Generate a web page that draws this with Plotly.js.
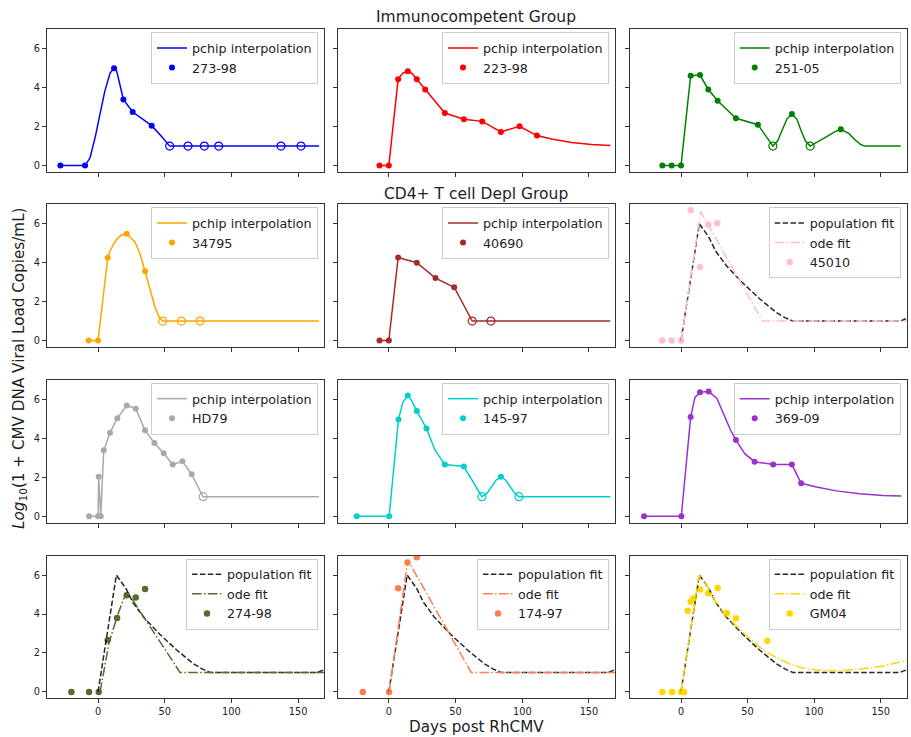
<!DOCTYPE html>
<html>
<head>
<meta charset="utf-8">
<script src="https://cdn.plot.ly/plotly-3.0.1.min.js"></script>
<style>
  html, body { margin: 0; padding: 0; background: #ffffff; }
  #chart { width: 911px; height: 737px; }
</style>
</head>
<body>
<div id="chart"></div>
<script>
// ---------------- DATA ----------------
const panelNames = ['273-98', '223-98', '251-05', '34795', '40690', '45010',
                    'HD79', '145-97', '369-09', '274-98', '174-97', 'GM04'];
const groupTitles = ['Immunocompetent Group', 'CD4+ T cell Depl Group'];
const xTickVals = [0, 50, 100, 150];
const yTickVals = [0, 2, 4, 6];

// 273-98
const d27398x = [-28.25, -9.75, 12, 19, 26, 40.25];
const d27398y = [0, 0, 5.0, 3.4, 2.75, 2.05];
const o27398x = [53.75, 67.5, 79.75, 90.5, 137.25, 152.25];
const o27398y = [1, 1, 1, 1, 1, 1];
const c27398x = [-28.25, -9.75, -6, -2, 1, 5, 9, 12, 14, 16.5, 19, 26, 40.25, 47, 53.75, 165.75];
const c27398y = [0, 0, 0.4, 1.5, 2.5, 3.8, 4.75, 5.0, 4.85, 4.2, 3.4, 2.75, 2.05, 1.55, 1.0, 1.0];

// 223-98
const d22398x = [-7, 0, 7, 14.25, 21, 27.25, 42, 56.25, 70, 84, 98, 111];
const d22398y = [0, 0, 4.44, 4.85, 4.44, 3.91, 2.70, 2.38, 2.27, 1.73, 2.02, 1.54];
const c22398x = [-7, 0, 7, 10.5, 14.25, 17.5, 21, 27.25, 42, 56.25, 70, 84, 98, 111, 122, 137, 152, 166];
const c22398y = [0, 0, 4.44, 4.75, 4.85, 4.72, 4.44, 3.91, 2.70, 2.38, 2.27, 1.73, 2.02, 1.54, 1.36, 1.19, 1.08, 1.03];

// 251-05
const d25105x = [-14, -7, 0, 7.25, 14.25, 20.5, 27.5, 41.25, 57.75, 83.25, 120];
const d25105y = [0, 0, 0, 4.62, 4.65, 3.91, 3.33, 2.43, 2.10, 2.65, 1.86];
const o25105x = [69, 97];
const o25105y = [1, 1];
const c25105x = [-14, -7, 0, 7.25, 14.25, 20.5, 27.5, 41.25, 57.75, 65, 69, 72.5, 76, 79.5, 83.25,
                 87, 90, 93.5, 97, 102, 108.5, 115, 120, 126, 131, 135, 138, 165];
const c25105y = [0, 0, 0, 4.62, 4.65, 3.91, 3.33, 2.43, 2.10, 1.4, 1.0, 1.26, 1.83, 2.39, 2.65,
                 2.39, 1.83, 1.26, 1.0, 1.18, 1.45, 1.72, 1.86, 1.65, 1.3, 1.08, 1.0, 1.0];

// 34795
const d34795x = [-7, 0, 7.25, 21.5, 35.25];
const d34795y = [0, 0, 4.26, 5.49, 3.56];
const o34795x = [48.5, 62.5, 76.5];
const o34795y = [1, 1, 1];
const c34795x = [-7, 0, 7.25, 9, 11.5, 14, 17.75, 21.5, 27.75, 31.5, 35.25, 39, 42.75, 46, 48.5, 165.75];
const c34795y = [0, 0, 4.26, 4.6, 4.94, 5.2, 5.44, 5.49, 5.05, 4.45, 3.56, 2.6, 1.7, 1.18, 1.0, 1.0];

// 40690
const d40690x = [-7, 0, 7, 21, 35, 49];
const d40690y = [0, 0, 4.27, 4.0, 3.21, 2.74];
const o40690x = [62.5, 76.5];
const o40690y = [1, 1];
const c40690x = [-7, 0, 7, 21, 35, 49, 62.5, 166];
const c40690y = [0, 0, 4.27, 4.0, 3.21, 2.74, 1.0, 1.0];

// 45010
const d45010x = [-14, -7, 0, 7.25, 14.25, 20.5, 27.25];
const d45010y = [0, 0, 0, 6.7, 3.78, 5.96, 6.03];
const ode45010x = [0, 14.75, 61.25, 170];
const ode45010y = [0, 6.62, 1.0, 1.0];

// HD79
const dHD79x = [-6.75, 0, 0.5, 2, 4.25, 9, 14.5, 21.5, 28.25, 35.25, 42.25, 49.25, 56, 63.25, 70.25];
const dHD79y = [0, 0, 2.02, 0, 3.38, 4.29, 5.03, 5.69, 5.52, 4.41, 3.76, 3.23, 2.65, 2.82, 2.15];
const oHD79x = [78.75];
const oHD79y = [1];
const cHD79x = [-6.75, 0, 0.5, 2, 4.25, 9, 14.5, 21.5, 28.25, 35.25, 42.25, 49.25, 56, 63.25, 70.25, 78.75, 165.75];
const cHD79y = [0, 0, 2.02, 0, 3.38, 4.29, 5.03, 5.69, 5.52, 4.41, 3.76, 3.23, 2.65, 2.82, 2.15, 1.0, 1.0];

// 145-97
const d14597x = [-24, 0.25, 7.25, 14.25, 21, 28.25, 42, 56.25, 84];
const d14597y = [0, 0, 4.97, 6.2, 5.40, 4.51, 2.65, 2.55, 2.02];
const o14597x = [69.75, 97.5];
const o14597y = [1, 1];
const c14597x = [-24, 0.25, 7.25, 10.5, 14.25, 17.5, 21, 28.25, 34.5, 42, 56.25, 63, 69.75, 73.5, 77, 80.5,
                 84, 87.5, 91, 94.5, 97.5, 166];
const c14597y = [0, 0, 4.97, 5.85, 6.2, 5.9, 5.40, 4.51, 3.4, 2.65, 2.55, 1.75, 1.0, 1.17, 1.51, 1.86,
                 2.02, 1.86, 1.51, 1.17, 1.0, 1.0];

// 369-09
const d36909x = [-27.75, 0.25, 7.25, 14.25, 20.75, 41.25, 55.25, 69.25, 83.25, 90.25];
const d36909y = [0, 0, 5.09, 6.36, 6.41, 3.91, 2.80, 2.65, 2.65, 1.69];
const c36909x = [-27.75, 0.25, 7.25, 10.5, 14.25, 20.75, 27, 33, 37, 41.25, 48, 55.25, 69.25, 83.25, 90.25,
                 101.75, 116.75, 134, 151.75, 165.5];
const c36909y = [0, 0, 5.09, 6.1, 6.36, 6.41, 6.05, 5.1, 4.45, 3.91, 3.2, 2.80, 2.65, 2.65, 1.69,
                 1.5, 1.3, 1.15, 1.06, 1.03];

// 274-98
const d27498x = [-20, -6.75, 0.5, 7.25, 14.25, 21.5, 28.25, 35.25];
const d27498y = [0, 0, 0, 2.67, 3.79, 4.96, 4.85, 5.28];
const ode27498x = [1.5, 5, 8.5, 14.5, 19, 22.5, 61.5, 170];
const ode27498y = [0, 1.4, 2.6, 3.9, 4.75, 5.08, 1.0, 1.0];

// 174-97
const d17497x = [-19.5, 0.25, 7, 14, 21];
const d17497y = [0, 0, 5.32, 6.65, 6.92];
const ode17497x = [0.25, 14.25, 61.75, 170];
const ode17497y = [0, 6.77, 1.0, 1.0];

// GM04
const dGM04x = [-14, -6.75, 0, 2.25, 5, 7.25, 9.25, 14.25, 20.5, 27.5, 34.5, 41.25, 64.75];
const dGM04y = [0, 0, 0, 0, 4.17, 4.63, 4.80, 5.26, 5.06, 5.33, 4.05, 3.78, 2.62];
const odeGM04x = [0, 13.5, 21, 26, 34, 46.5, 59, 64, 72, 82, 92, 102, 117, 134, 152, 170];
const odeGM04y = [0, 6.0, 5.3, 4.65, 3.9, 3.05, 2.3, 2.05, 1.75, 1.42, 1.22, 1.12, 1.08, 1.16, 1.33, 1.62];

// population fit (shared)
const popX = [0, 13.75, 21, 26, 34, 46.5, 59, 71.5, 78, 84, 164.5, 167, 170];
const popY = [0, 6.0, 5.3, 4.6, 3.85, 2.95, 2.15, 1.45, 1.18, 1.0, 1.0, 1.05, 1.15];

// ---------------- STYLE / LAYOUT ----------------
const panelColors = ['#0000ff', '#ff0000', '#008000', '#ffa500', '#a52a2a', '#ffc0cb',
                     '#a9a9a9', '#00ced1', '#9932cc', '#556b2f', '#ff7f50', '#ffd700'];
const W = 911, H = 737;
const colLeft = [47, 337.7, 630];
const colRight = [324, 615, 906.7];
const rowTop = [29.3, 204.3, 379.9, 555.6];
const rowBot = [172, 347, 522.6, 698.3];
const FONT = 'DejaVu Sans, Liberation Sans, sans-serif';

const panels = [
  {kind: 'pchip', d: [d27398x, d27398y], o: [o27398x, o27398y], c: [c27398x, c27398y]},
  {kind: 'pchip', d: [d22398x, d22398y], o: null, c: [c22398x, c22398y]},
  {kind: 'pchip', d: [d25105x, d25105y], o: [o25105x, o25105y], c: [c25105x, c25105y]},
  {kind: 'pchip', d: [d34795x, d34795y], o: [o34795x, o34795y], c: [c34795x, c34795y]},
  {kind: 'pchip', d: [d40690x, d40690y], o: [o40690x, o40690y], c: [c40690x, c40690y]},
  {kind: 'fit', d: [d45010x, d45010y], ode: [ode45010x, ode45010y]},
  {kind: 'pchip', d: [dHD79x, dHD79y], o: [oHD79x, oHD79y], c: [cHD79x, cHD79y]},
  {kind: 'pchip', d: [d14597x, d14597y], o: [o14597x, o14597y], c: [c14597x, c14597y]},
  {kind: 'pchip', d: [d36909x, d36909y], o: null, c: [c36909x, c36909y]},
  {kind: 'fit', d: [d27498x, d27498y], ode: [ode27498x, ode27498y]},
  {kind: 'fit', d: [d17497x, d17497y], ode: [ode17497x, ode17497y]},
  {kind: 'fit', d: [dGM04x, dGM04y], ode: [odeGM04x, odeGM04y]}
];

const traces = [];
const layout = {
  width: W, height: H,
  margin: {l: 0, r: 0, t: 0, b: 0},
  paper_bgcolor: '#ffffff', plot_bgcolor: '#ffffff',
  font: {family: FONT, color: '#222222'},
  annotations: [],
  showlegend: true
};

panels.forEach((p, i) => {
  const k = i + 1;
  const row = Math.floor(i / 3), col = i % 3;
  const xa = 'x' + (k === 1 ? '' : k), ya = 'y' + (k === 1 ? '' : k);
  const lg = 'legend' + (k === 1 ? '' : k);
  const color = panelColors[i];
  const name = panelNames[i];

  if (p.kind === 'pchip') {
    traces.push({x: p.c[0], y: p.c[1], type: 'scatter', mode: 'lines', name: 'pchip interpolation',
      xaxis: xa, yaxis: ya, legend: lg, line: {color: color, width: 1.5}, hoverinfo: 'skip'});
    traces.push({x: p.d[0], y: p.d[1], type: 'scatter', mode: 'markers', name: name,
      xaxis: xa, yaxis: ya, legend: lg, marker: {color: color, size: 6, line: {width: 0}}});
    if (p.o) {
      traces.push({x: p.o[0], y: p.o[1], type: 'scatter', mode: 'markers', showlegend: false,
        xaxis: xa, yaxis: ya, legend: lg,
        marker: {symbol: 'circle-open', color: color, size: 8, line: {width: 1.2, color: color}}});
    }
  } else {
    traces.push({x: p.d[0], y: p.d[1], type: 'scatter', mode: 'markers', name: name,
      xaxis: xa, yaxis: ya, legend: lg, legendrank: 3, marker: {color: color, size: 6.5, line: {width: 0}}});
    traces.push({x: popX, y: popY, type: 'scatter', mode: 'lines', name: 'population fit',
      xaxis: xa, yaxis: ya, legend: lg, legendrank: 1,
      line: {color: 'rgba(0,0,0,0.85)', width: 1.5, dash: '5.5px,2.4px'}});
    traces.push({x: p.ode[0], y: p.ode[1], type: 'scatter', mode: 'lines', name: 'ode fit',
      xaxis: xa, yaxis: ya, legend: lg, legendrank: 2,
      line: {color: color, width: 1.5, dash: '9.6px,2.4px,1.5px,2.4px'}});
  }

  const axCommon = {
    ticks: 'outside', ticklen: 4, tickwidth: 1, tickcolor: '#333333',
    showline: true, linecolor: '#333333', linewidth: 1, mirror: true,
    showgrid: false, zeroline: false,
    tickfont: {family: FONT, size: 9.8, color: '#222222'}
  };
  layout['xaxis' + (k === 1 ? '' : k)] = Object.assign({}, axCommon, {
    domain: [colLeft[col] / W, colRight[col] / W],
    anchor: ya, range: [-38.3, 169.5], tickvals: xTickVals,
    showticklabels: row === 3
  });
  layout['yaxis' + (k === 1 ? '' : k)] = Object.assign({}, axCommon, {
    domain: [1 - rowBot[row] / H, 1 - rowTop[row] / H],
    anchor: xa, range: [-0.33, 7.0], tickvals: yTickVals,
    showticklabels: col === 0
  });
  layout[lg] = {
    x: (colRight[col] - 6) / W, y: 1 - (rowTop[row] + 3) / H,
    xanchor: 'right', yanchor: 'top',
    bgcolor: 'rgba(255,255,255,0.8)', bordercolor: '#cccccc', borderwidth: 1,
    font: {family: FONT, size: 12.7, color: '#222222'},
    traceorder: 'normal', itemwidth: 30
  };
});

layout.annotations.push(
  {text: groupTitles[0], x: 476 / W, y: 1 - 16.7 / H, xref: 'paper', yref: 'paper',
   xanchor: 'center', yanchor: 'middle', showarrow: false, font: {family: FONT, size: 15.5, color: '#222'}},
  {text: groupTitles[1], x: 476 / W, y: 1 - 194 / H, xref: 'paper', yref: 'paper',
   xanchor: 'center', yanchor: 'middle', showarrow: false, font: {family: FONT, size: 15.5, color: '#222'}},
  {text: 'Days post RhCMV', x: 476 / W, y: 1 - 727 / H, xref: 'paper', yref: 'paper',
   xanchor: 'center', yanchor: 'middle', showarrow: false, font: {family: FONT, size: 15.2, color: '#222'}},
  {text: '<i>Log</i><sub>10</sub>(1 + CMV DNA Viral Load Copies/mL)', x: 20 / W, y: 1 - 368 / H,
   xref: 'paper', yref: 'paper', xanchor: 'center', yanchor: 'middle', textangle: -90,
   showarrow: false, font: {family: FONT, size: 15.2, color: '#222'}}
);

Plotly.newPlot('chart', traces, layout, {staticPlot: true, displayModeBar: false});
</script>
</body>
</html>
